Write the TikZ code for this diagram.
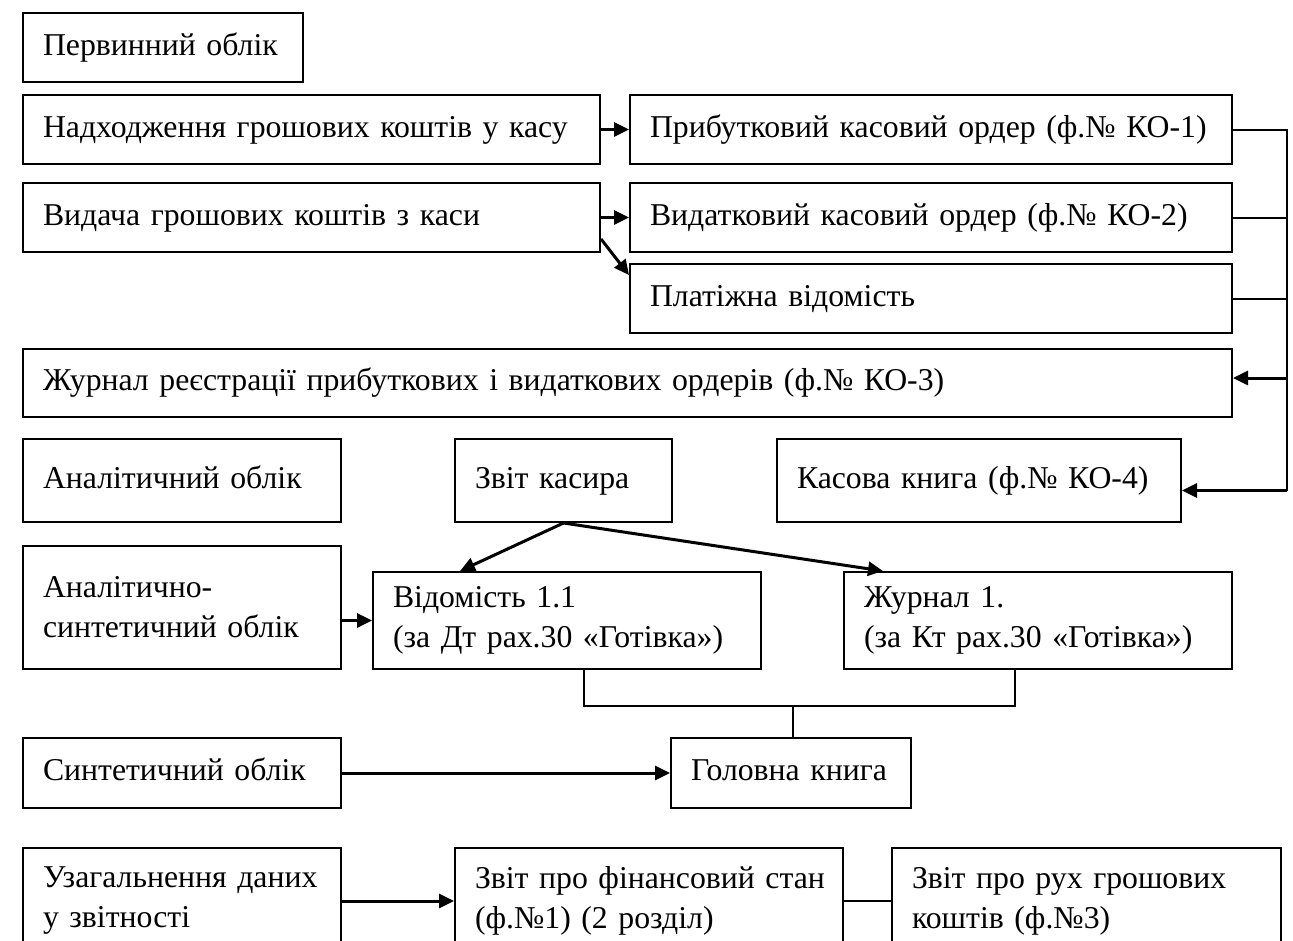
\documentclass[tikz,border=0pt]{standalone}
\usepackage{fontspec}
\setmainfont{Liberation Serif}
\usetikzlibrary{arrows.meta}

\begin{document}
\begin{tikzpicture}[x=0.4pt,y=-0.4pt,
	blk/.style={draw,line width=0.8pt,anchor=north west,inner xsep=8pt,inner ysep=0pt,align=left,font=\fontsize{12.7}{16}\selectfont},
	one/.style={text height=9pt,text depth=3pt},
	arr/.style={-{Triangle[length=6pt,width=5.6pt]},line width=1.2pt},
	ln/.style={line width=0.8pt}]
	\useasboundingbox (0,0) rectangle (1293,940);
	\clip (0,0) rectangle (1293,940);

	\node[blk,one,text width=96pt,minimum height=27.6pt] (perv) at (22,12) {Первинний облік};
	\node[blk,one,text width=214.8pt,minimum height=27.6pt] (nadh) at (22,94) {Надходження грошових коштів у касу};
	\node[blk,one,text width=224.8pt,minimum height=27.6pt] (prybut) at (629,94) {Прибутковий касовий ордер (ф.№ КО-1)};
	\node[blk,one,text width=214.8pt,minimum height=27.6pt] (vydacha) at (22,182) {Видача грошових коштів з каси};
	\node[blk,one,text width=224.8pt,minimum height=27.6pt] (vydat) at (629,182) {Видатковий касовий ордер (ф.№ КО-2)};
	\node[blk,one,text width=224.8pt,minimum height=27.6pt] (plat) at (629,263) {Платіжна відомість};
	\node[blk,one,text width=467.6pt,minimum height=27.2pt] (zhurn) at (22,348) {Журнал реєстрації прибуткових і видаткових ордерів (ф.№ КО-3)};

	\node[blk,one,text width=111.2pt,minimum height=33.2pt] (analit) at (22,438) {Аналітичний облік};
	\node[blk,one,text width=70.8pt,minimum height=33.2pt] (zvitk) at (454,438) {Звіт касира};
	\node[blk,one,text width=145.6pt,minimum height=33.2pt] (kasova) at (776,438) {Касова книга (ф.№ КО-4)};

	\node[blk,text width=111.2pt,minimum height=49.2pt] (ansynt) at (22,545) {Аналітично-\\синтетичний облік};
	\node[blk,text width=139.2pt,minimum height=38.8pt] (vidom) at (372,571) {Відомість 1.1\\(за Дт рах.30 «Готівка»)};
	\node[blk,text width=139.2pt,minimum height=38.8pt] (zhurn1) at (843,571) {Журнал 1.\\(за Кт рах.30 «Готівка»)};

	\node[blk,one,text width=111.2pt,minimum height=28pt] (synt) at (22,737) {Синтетичний облік};
	\node[blk,one,text width=80pt,minimum height=28pt] (golov) at (670,737) {Головна книга};

	\node[blk,text width=111.2pt,minimum height=42.4pt] (uzag) at (22,847) {Узагальнення даних\\у звітності};
	\node[blk,text width=139.2pt,minimum height=42.4pt] (zvitfin) at (454,847) {Звіт~про~фінансовий~стан\\(ф.№1) (2 розділ)};
	\node[blk,text width=139.6pt,minimum height=42.4pt] (zvitrukh) at (891,847) {Звіт про рух грошових\\коштів (ф.№3)};

	% первинні документи
	\draw[arr] (nadh.east) -- (prybut.west);
	\draw[arr] (vydacha.east) -- (vydat.west);
	\draw[arr] ([yshift=5.6pt]vydacha.south east) -- ([yshift=-4.8pt]plat.north west);

	% права шина
	\coordinate (bus) at (1287,0);
	\coordinate (kas) at ([yshift=-4pt]kasova.east);
	\coordinate (zh) at ([yshift=2pt]zhurn.east);
	\draw[ln] (prybut.east) -| (bus |- kas);
	\draw[ln] (vydat.east) -- (vydat.east -| bus);
	\draw[ln] (plat.east) -- (plat.east -| bus);
	\draw[arr] (zh -| bus) -- (zh);
	\draw[arr] (bus |- kas) -- (kas);

	\draw[arr] (zvitk.south) -- ([xshift=35.2pt]vidom.north west);
	\draw[arr] (zvitk.south) -- ([xshift=16pt]zhurn1.north west);
	\draw[arr] (ansynt.east |- vidom.west) -- (vidom.west);

	\coordinate (jn) at (793,706);
	\draw[ln] ([xshift=6.8pt]vidom.south) |- (jn) -| ([xshift=-9.2pt]zhurn1.south);
	\draw[ln] (jn) -- (jn |- golov.north);
	\draw[arr] (synt.east) -- (golov.west);

	\draw[arr] (uzag.east) -- (zvitfin.west);
	\draw[ln] (zvitfin.east) -- (zvitrukh.west);
\end{tikzpicture}
\end{document}
